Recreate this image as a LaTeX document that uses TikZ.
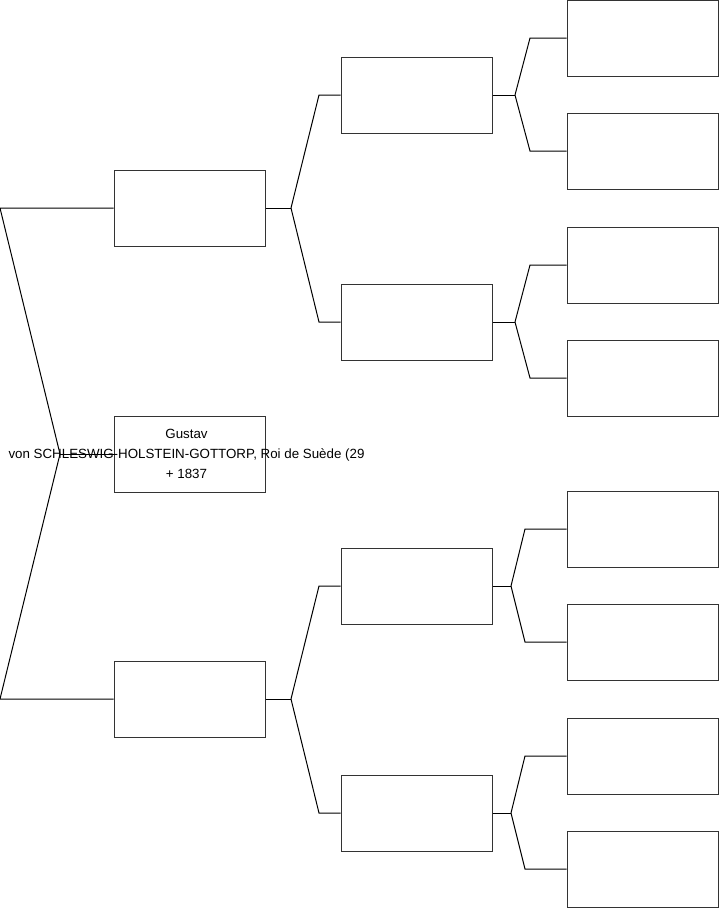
\documentclass[tikz,border=0pt]{standalone}
\usepackage{fontspec}
\setmainfont{Liberation Sans}
\usetikzlibrary{positioning}

\begin{document}
\begin{tikzpicture}[x=0.75pt,y=-0.75pt,
  person/.style={rectangle,draw=black!80,line width=0.75pt,minimum width=113.25pt,minimum height=57pt,inner sep=0pt},
  branch/.style={draw=black,line width=0.75pt},
  persontext/.style={align=center,font=\fontsize{10}{15}\selectfont,text=black}]
\useasboundingbox (0,0) rectangle (719,908);

% boxes
\node[person] (ego) at (189.5,454) {};
\node[person] (f) at (189.5,208) {};
\node[person] (m) at (189.5,699) {};
\node[person] (ff) at (416.5,95) {};
\node[person] (fm) at (416.5,322) {};
\node[person] (mf) at (416.5,586) {};
\node[person] (mm) at (416.5,813) {};
\node[person] (fff) at (642.5,38) {};
\node[person] (ffm) at (642.5,151) {};
\node[person] (fmf) at (642.5,265) {};
\node[person] (fmm) at (642.5,378) {};
\node[person] (mff) at (642.5,529) {};
\node[person] (mfm) at (642.5,642) {};
\node[person] (mmf) at (642.5,756) {};
\node[person] (mmm) at (642.5,869) {};

\node[persontext] (egotext) at (186.5,454) {Gustav\\von SCHLESWIG-HOLSTEIN-GOTTORP, Roi de Suède (29\\+ 1837};

% forks
\coordinate (kego) at (60,454);
\coordinate (kf) at (291,208);
\coordinate (km) at (291,699);
\coordinate (kff) at (515,95);
\coordinate (kfm) at (515,322);
\coordinate (kmf) at (511,586);
\coordinate (kmm) at (511,813);

\draw[branch] (ego.west) -- (kego);
\draw[branch] (kego) -- (0,208) -- (f.west);
\draw[branch] (kego) -- (0,699) -- (m.west);

\draw[branch] (f.east) -- (kf);
\draw[branch] (kf) -- (319,95) -- (ff.west);
\draw[branch] (kf) -- (319,322) -- (fm.west);
\draw[branch] (m.east) -- (km);
\draw[branch] (km) -- (319,586) -- (mf.west);
\draw[branch] (km) -- (319,813) -- (mm.west);

\draw[branch] (ff.east) -- (kff);
\draw[branch] (kff) -- (530,38) -- (fff.west);
\draw[branch] (kff) -- (530,151) -- (ffm.west);
\draw[branch] (fm.east) -- (kfm);
\draw[branch] (kfm) -- (530,265) -- (fmf.west);
\draw[branch] (kfm) -- (530,378) -- (fmm.west);
\draw[branch] (mf.east) -- (kmf);
\draw[branch] (kmf) -- (525,529) -- (mff.west);
\draw[branch] (kmf) -- (525,642) -- (mfm.west);
\draw[branch] (mm.east) -- (kmm);
\draw[branch] (kmm) -- (525,756) -- (mmf.west);
\draw[branch] (kmm) -- (525,869) -- (mmm.west);

\end{tikzpicture}
\end{document}
